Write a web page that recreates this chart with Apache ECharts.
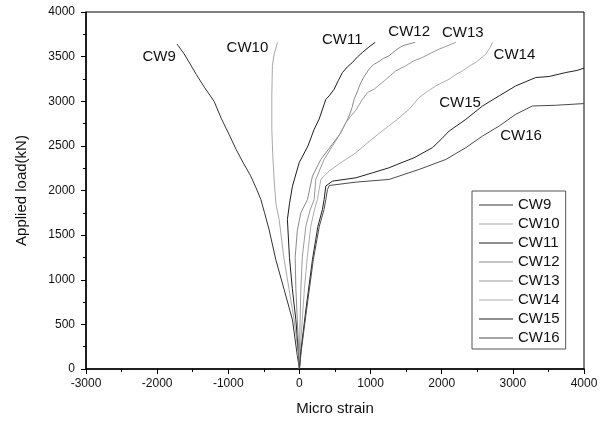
<!DOCTYPE html>
<html>
<head>
<meta charset="utf-8">
<title>Applied load vs micro strain</title>
<script src="https://cdn.jsdelivr.net/npm/echarts@6/dist/echarts.min.js"></script>
<style>
  html, body { margin: 0; padding: 0; background: #fff; }
  #chart { width: 611px; height: 421px; }
</style>
</head>
<body>
<div id="chart"></div>
<script>
// Strain gauge readings: [micro strain, applied load (kN)]
var seriesNames = ['CW9', 'CW10', 'CW11', 'CW12', 'CW13', 'CW14', 'CW15', 'CW16'];

var cw9 = [[0,0],[-30,150],[-98,550],[-215,890],[-332,1225],[-426,1560],[-490,1750],[-543,1900],
  [-610,2030],[-690,2170],[-790,2310],[-890,2460],[-990,2630],[-1100,2810],[-1200,3000],
  [-1330,3150],[-1450,3300],[-1560,3450],[-1620,3530],[-1720,3640]];

var cw10 = [[0,0],[-20,200],[-75,550],[-145,890],[-215,1225],[-285,1675],[-330,1850],[-356,2124],
  [-375,2400],[-388,2685],[-388,3060],[-380,3400],[-356,3528],[-309,3660]];

var cw11 = [[0,0],[-15,200],[-50,550],[-100,900],[-140,1250],[-169,1675],[-140,1850],[-98,2048],
  [-4,2311],[120,2500],[207,2685],[277,2800],[371,3022],[418,3060],[410,3045],[488,3135],
  [545,3230],[540,3215],[605,3322],[680,3390],[672,3376],[745,3435],[820,3500],[812,3487],
  [886,3547],[980,3610],[1065,3660]];

var cw12 = [[0,0],[-10,200],[-30,550],[-50,900],[-60,1250],[-30,1550],[20,1750],[113,1899],
  [183,2161],[301,2348],[464,2520],[582,2648],[699,2835],[740,2930],[734,2915],[769,3022],
  [820,3120],[814,3105],[863,3210],[920,3290],[914,3272],[980,3360],[1040,3410],[1034,3395],
  [1097,3435],[1180,3480],[1174,3465],[1261,3510],[1350,3570],[1344,3555],[1448,3622],[1627,3660]];

var cw13 = [[0,0],[0,200],[10,550],[20,900],[40,1250],[90,1600],[150,1780],[207,1899],[230,2124],
  [347,2348],[464,2498],[560,2620],[652,2760],[720,2830],[714,2815],[793,2900],[886,3022],
  [960,3100],[954,3085],[1050,3135],[1191,3228],[1185,3212],[1355,3341],[1495,3397],[1600,3450],
  [1594,3435],[1729,3491],[1850,3540],[1844,3525],[1964,3584],[2198,3660]];

var cw14 = [[0,0],[10,200],[40,550],[70,900],[110,1250],[160,1600],[210,1780],[253,1899],[301,2124],
  [418,2217],[560,2300],[554,2290],[652,2348],[793,2423],[950,2530],[944,2515],[1120,2640],
  [1250,2720],[1244,2705],[1380,2800],[1542,2910],[1536,2895],[1680,3040],[1800,3110],[1794,3095],
  [1917,3172],[2104,3247],[2200,3300],[2194,3285],[2292,3341],[2400,3400],[2394,3385],[2480,3435],
  [2620,3528],[2680,3600],[2713,3660]];

var cw15 = [[0,0],[20,200],[90,660],[183,1225],[260,1600],[323,1787],[347,1899],[371,2050],
  [464,2105],[793,2142],[1027,2198],[1261,2255],[1400,2300],[1394,2290],[1612,2367],[1870,2480],
  [2000,2580],[1994,2565],[2104,2666],[2339,2797],[2573,2947],[2807,3060],[3041,3172],[3322,3266],
  [3510,3277],[3744,3322],[3900,3345],[3894,3330],[4000,3370]];

var cw16 = [[0,0],[25,200],[100,660],[195,1225],[280,1600],[346,1787],[371,1899],[394,2011],
  [420,2056],[793,2094],[1261,2124],[1682,2236],[2058,2348],[2339,2480],[2573,2610],[2807,2722],
  [3041,2854],[3275,2947],[3603,2955],[4000,2974]];

var seriesData = [cw9, cw10, cw11, cw12, cw13, cw14, cw15, cw16];

// line shade per gauge
var lineColors = ['#333333', '#a8a8a8', '#1e1e1e', '#8a8a8a', '#9a9a9a', '#adadad', '#222222', '#4a4a4a'];
// where each curve's name sits relative to its last reading (px)
var nameOffsets = [[-18, 13], [-30, 6], [-33, -2], [-6, -10], [7, -9], [22, 13], [-124, 35], [-63, 32]];

var font = 'Liberation Sans, Arial, sans-serif';

var series = seriesNames.map(function (name, i) {
  var pts = seriesData[i];
  return {
    name: name,
    type: 'line',
    data: pts,
    symbol: 'none',
    lineStyle: { color: lineColors[i], width: 1 },
    itemStyle: { color: lineColors[i] },
    markPoint: {
      symbol: 'circle',
      symbolSize: 0,
      silent: true,
      label: {
        show: true,
        position: 'inside',
        offset: nameOffsets[i],
        formatter: name,
        color: '#111',
        fontSize: 15,
        fontFamily: font
      },
      data: [{ coord: pts[pts.length - 1] }]
    }
  };
});

function plainNumber(v) { return String(v); }

var chart = echarts.init(document.getElementById('chart'), null, { renderer: 'canvas' });
chart.setOption({
  animation: false,
  backgroundColor: '#fff',
  grid: {
    left: 86, right: 27, top: 12, bottom: 52,
    show: true, borderColor: '#000', borderWidth: 1, backgroundColor: 'transparent'
  },
  legend: {
    orient: 'vertical',
    left: 472, top: 191,
    padding: [6, 6, 3, 7],
    icon: 'rect',
    itemWidth: 34,
    itemHeight: 1,
    itemGap: 3,
    borderColor: '#555',
    borderWidth: 1,
    backgroundColor: '#fff',
    textStyle: { fontSize: 15, fontFamily: font, color: '#111', lineHeight: 16 },
    data: seriesNames
  },
  xAxis: {
    type: 'value',
    min: -3000, max: 4000, interval: 1000,
    name: 'Micro strain',
    nameLocation: 'middle',
    nameGap: 32,
    nameTextStyle: { fontSize: 15, fontFamily: font, color: '#111' },
    axisLine: { onZero: false, lineStyle: { color: '#000', width: 1.5 } },
    axisTick: { inside: false, length: 5, lineStyle: { color: '#000', width: 1 } },
    minorTick: { show: true, splitNumber: 2, length: 3, lineStyle: { color: '#000', width: 1 } },
    splitLine: { show: false },
    axisLabel: { fontSize: 12, fontFamily: font, color: '#111', margin: 9, formatter: plainNumber }
  },
  yAxis: {
    type: 'value',
    min: 0, max: 4000, interval: 500,
    name: 'Applied load(kN)',
    nameLocation: 'middle',
    nameGap: 57,
    nameTextStyle: { fontSize: 15, fontFamily: font, color: '#111' },
    axisLine: { onZero: false, lineStyle: { color: '#000', width: 1.5 } },
    axisTick: { inside: false, length: 5, lineStyle: { color: '#000', width: 1 } },
    minorTick: { show: true, splitNumber: 2, length: 3, lineStyle: { color: '#000', width: 1 } },
    splitLine: { show: false },
    axisLabel: { fontSize: 12, fontFamily: font, color: '#111', margin: 11, formatter: plainNumber }
  },
  series: series
});
</script>
</body>
</html>
